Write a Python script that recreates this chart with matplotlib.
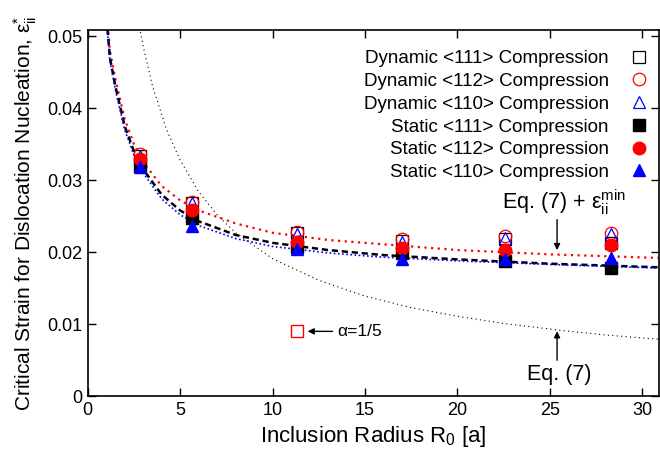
import numpy as np
import matplotlib
matplotlib.use('Agg')
from matplotlib import pyplot as plt

plt.rcParams['font.family'] = ['Liberation Sans', 'DejaVu Sans']
plt.rcParams['mathtext.fontset'] = 'custom'
plt.rcParams['mathtext.rm'] = 'Liberation Sans'
plt.rcParams['mathtext.it'] = 'Liberation Sans'

# measured critical strains
radius = [2.83, 5.66, 11.3, 17.0, 22.6, 28.3]
dyn_111 = [0.0333, 0.0269, 0.0226, 0.0216, 0.0218, 0.0213]
dyn_112 = [0.0336, 0.0270, 0.0228, 0.0219, 0.0223, 0.0226]
dyn_110 = [0.0333, 0.0268, 0.0225, 0.0214, 0.0220, 0.0225]
sta_111 = [0.0320, 0.0247, 0.0207, 0.0199, 0.0188, 0.0178]
sta_112 = [0.0329, 0.0258, 0.0214, 0.0206, 0.0203, 0.0210]
sta_110 = [0.0318, 0.0236, 0.0204, 0.0190, 0.0191, 0.0192]

# alpha = 1/5 point
alpha_x = [11.3]
alpha_y = [0.0090]

# fitted curves
fit_r = [0.9, 1.2, 1.5, 2.0, 2.5, 3.0, 4.0, 5.0, 6.0, 8.0, 10.0, 13.0, 16.0, 20.0, 25.0, 30.9]
fit_black = [0.0560, 0.0470, 0.0430, 0.0375, 0.0340, 0.0315, 0.0280, 0.0258, 0.0243, 0.0224, 0.0213, 0.0203, 0.0196, 0.0190, 0.0184, 0.0179]
fit_blue = [0.0555, 0.0465, 0.0425, 0.0370, 0.0335, 0.0310, 0.0274, 0.0252, 0.0237, 0.0219, 0.0208, 0.0199, 0.0193, 0.0188, 0.0183, 0.0178]
fit_red = [0.0570, 0.0480, 0.0440, 0.0385, 0.0350, 0.0325, 0.0292, 0.0272, 0.0258, 0.0240, 0.0227, 0.0217, 0.0211, 0.0203, 0.0197, 0.0192]

eq7_r = [2.8, 3.0, 3.5, 4.27, 5.0, 6.0, 7.0, 8.0, 10.0, 12.5, 15.0, 17.5, 20.0, 22.5, 25.4, 28.0, 30.9]
eq7_eps = [0.0512, 0.0486, 0.0431, 0.0370, 0.0328, 0.0284, 0.0252, 0.0227, 0.0191, 0.0161, 0.0139, 0.0123, 0.0111, 0.0101, 0.0092, 0.0085, 0.0079]

fig = plt.figure(figsize=(6.6, 4.59), dpi=100)
ax = fig.add_axes([0.133, 0.137, 0.865, 0.798])

ax.plot(eq7_r, eq7_eps, color='black', lw=0.8, ls=(0, (1, 3)))
ax.plot(fit_r, fit_red, color='red', lw=1.6, ls=(0, (1, 2)))
ax.plot(fit_r, fit_black, color='black', lw=1.8, ls=(0, (2.5, 1.5)))
ax.plot(fit_r, fit_blue, color='blue', lw=1.2, ls=(0, (1, 1.5)))

ms = 8.5
ax.plot(radius, dyn_111, ls='none', marker='s', ms=ms, mfc='none', mec='black', mew=0.9, label='Dynamic <111> Compression')
ax.plot(radius, dyn_112, ls='none', marker='o', ms=ms + 0.5, mfc='none', mec='red', mew=0.9, label='Dynamic <112> Compression')
ax.plot(radius, dyn_110, ls='none', marker='^', ms=ms + 0.5, mfc='none', mec='blue', mew=0.9, label='Dynamic <110> Compression')
ax.plot(radius, sta_111, ls='none', marker='s', ms=ms, color='black', label='Static <111> Compression')
ax.plot(radius, sta_112, ls='none', marker='o', ms=ms + 0.5, color='red', label='Static <112> Compression')
ax.plot(radius, sta_110, ls='none', marker='^', ms=ms + 0.5, color='blue', label='Static <110> Compression')

ax.plot(alpha_x, alpha_y, ls='none', marker='s', ms=ms, mfc='none', mec='#ff0000', mew=1.0)

ax.annotate('', xy=(11.75, 0.0090), xytext=(13.4, 0.0090),
            arrowprops=dict(arrowstyle='-|>', color='black', lw=1.0, mutation_scale=9))
ax.text(13.5, 0.0090, 'α=1/5', fontsize=12.5, va='center', ha='left')

ax.annotate('', xy=(25.4, 0.0199), xytext=(25.4, 0.0249),
            arrowprops=dict(arrowstyle='-|>', color='black', lw=1.0, mutation_scale=9))
ax.text(25.8, 0.0270, r'Eq. (7) + ε$_{\rm ii}^{\rm min}$', fontsize=15.5, ha='center', va='center')

ax.annotate('', xy=(25.4, 0.0094), xytext=(25.4, 0.0046),
            arrowprops=dict(arrowstyle='-|>', color='black', lw=1.0, mutation_scale=9))
ax.text(25.5, 0.0030, 'Eq. (7)', fontsize=15.5, ha='center', va='center')

ax.set_xlim(0, 30.9)
ax.set_ylim(0, 0.0509)
ax.set_xticks([0, 5, 10, 15, 20, 25, 30])
ax.set_xticklabels(['0', '5', '10', '15', '20', '25', '30'])
ax.set_yticks([0, 0.01, 0.02, 0.03, 0.04, 0.05])
ax.set_yticklabels(['0', '0.01', '0.02', '0.03', '0.04', '0.05'])
ax.tick_params(direction='in', top=True, right=True, length=6, width=1, labelsize=13, pad=4)
for s in ax.spines.values():
    s.set_linewidth(1.2)

ax.set_xlabel(r'Inclusion Radius R$_0$ [a]', fontsize=16, labelpad=4)
ax.set_ylabel(r'Critical Strain for Dislocation Nucleation, ε$^{*}_{\rm ii}$', fontsize=15, labelpad=6)

ax.legend(loc='upper right', bbox_to_anchor=(0.998, 0.965), markerfirst=False, frameon=False,
          fontsize=13.5, handlelength=1.2, handletextpad=1.0, labelspacing=0.3,
          borderaxespad=0.0, numpoints=1)

plt.savefig('out.png', dpi=100)
